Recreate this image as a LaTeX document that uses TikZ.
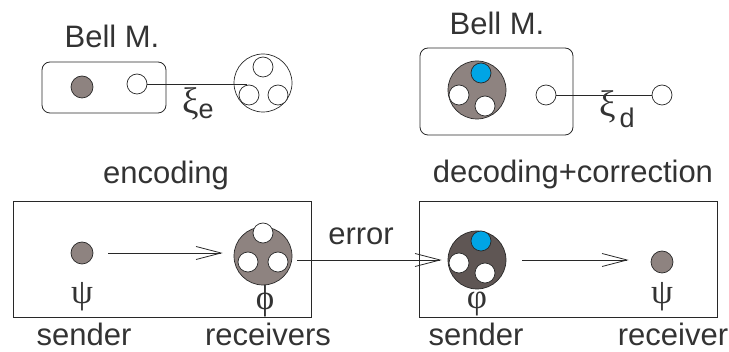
\documentclass[tikz,border=0pt]{standalone}
\usepackage{fontspec}
\setmainfont{Liberation Sans}
\newfontfamily\greekfont{Liberation Serif}
\usetikzlibrary{arrows.meta,positioning,calc}
\definecolor{greyi}{RGB}{142,131,128}
\definecolor{darki}{RGB}{95,86,84}
\definecolor{bluei}{RGB}{0,165,229}
\definecolor{texti}{RGB}{51,51,51}
\definecolor{linei}{RGB}{40,40,40}
\tikzset{
          texto/.style={font=\fontsize{31}{36}\selectfont,text=texti,
            inner sep=0pt,anchor=base},
          greek/.style={font=\greekfont\fontsize{35}{40}\selectfont,
            text=texti,inner sep=0pt},
          qubit/.style={circle,draw=linei,line width=0.7pt,fill=white,
            minimum size=20pt,inner sep=0pt},
          dot/.style={qubit,fill=greyi,minimum size=22pt},
          cluster/.style={qubit,minimum size=58pt},
          frame/.style={draw=linei,line width=0.8pt,inner sep=0pt},
          wire/.style={draw=linei,line width=0.8pt},
          arrow/.style={wire,-{Straight Barb[length=25pt,width=13pt]}}
        }
\newcommand\Trio[7]{%
          \node[cluster,fill=#3] (#1) at (#2) {};
          \node[qubit,fill=#4] (#1-1) at ([shift={(#5)}]#1.center) {};
          \node[qubit] (#1-2) at ([shift={(#6)}]#1.center) {};
          \node[qubit] (#1-3) at ([shift={(#7)}]#1.center) {};
        }
\newcommand\XiText[3]{%
          \node[texto,anchor=base west] (#1) at (#2)
          {{\greekfont\fontsize{37}{40}\selectfont ξ}#3};
        }
\begin{document}
\begin{tikzpicture}[x=1pt,y=-1pt]
            \useasboundingbox (0,0) rectangle (729,352);

            % Bell measurements
            \node[frame,rounded corners=8pt,minimum width=124pt,minimum height=51pt]
              (bellA) at (104,87.5) {};
            \node[frame,rounded corners=8pt,minimum width=153pt,minimum height=87pt]
              (bellB) at (496.5,91.5) {};
            \node[texto] (bellAt) at (112,48) {Bell M.};
            \node[texto] (bellBt) at (497,35) {Bell M.};

            \node[dot] (dotA) at (82,87) {};
            \node[qubit] (openA) at (137,84) {};
            \Trio{bigA}{263,83}{white}{white}{0,-16}{-14,12}{15,12}
            \coordinate (endA) at (247,84);
            \draw[wire] (openA) -- (endA);
            \XiText{xiE}{182,114}{\raisebox{-5pt}{\fontsize{27}{30}\selectfont e}}

            \Trio{bigB}{477,90}{greyi}{bluei}{4,-17}{-18,5}{8,16}
            \node[qubit] (openB) at (546,95) {};
            \node[qubit] (openC) at (662,95) {};
            \draw[wire] (openB) -- (openC);
            \XiText{xiD}{599,117}{\hspace{4pt}\raisebox{-11pt}{\fontsize{27}{30}\selectfont d}}

            % encoding and decoding
            \node[frame,minimum width=298pt,minimum height=116pt] (encbox) at (162,259) {};
            \node[frame,minimum width=298pt,minimum height=116pt] (decbox) at (568,259) {};
            \node[texto] (enct) at (166,184) {encoding};
            \node[texto] (dect) at (573,183) {decoding+correction};

            \node[dot] (dotC) at (82,253) {};
            \Trio{bigC}{263,256}{greyi}{white}{0,-23}{-15,6}{15,6}
            \Trio{bigD}{477,260}{darki}{bluei}{4,-19}{-18,3}{8,13}
            \node[dot] (dotE) at (662,262) {};

            \draw[arrow,shorten <=15pt,shorten >=11pt] (dotC) -- (dotC -| bigC.west);
            \draw[arrow,shorten <=5pt,shorten >=6pt] (bigC.east |- bigD) -- (bigD.west);
            \draw[arrow,shorten <=16pt,shorten >=22pt] (bigD) -- (bigD -| dotE.west);
            \node[texto] (errt) at (361,245) {error};

            \node[greek] (psiA) at (82,297) {ψ};
            \node[greek] (phiC) at (265,301) {ϕ};
            \node[greek] (phiD) at (477,304) {φ};
            \node[greek] (psiE) at (662,297) {ψ};

            \node[texto] (sendA) at (84,346) {sender};
            \node[texto] (recvC) at (268,346) {receivers};
            \node[texto] (sendD) at (476,346) {sender};
            \node[texto] (recvE) at (673,346) {receiver};
          \end{tikzpicture}
\end{document}
